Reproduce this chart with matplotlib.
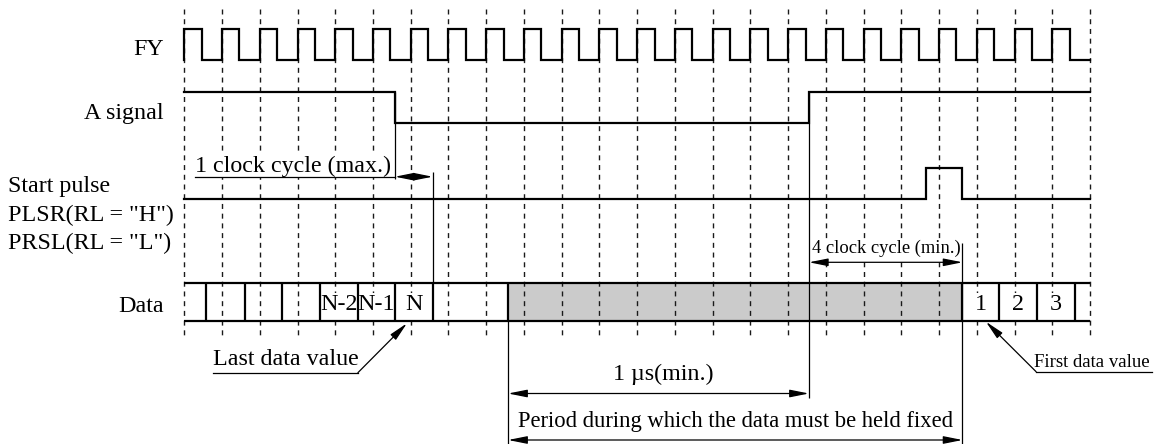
import numpy as np
import matplotlib.pyplot as plt

plt.rcParams['font.family'] = ['Liberation Serif', 'DejaVu Serif']
plt.rcParams['lines.scale_dashes'] = False

# timing data, in clock cycles from the first FY rising edge
n_clk = 24
fy_duty = 0.46
a_fall, a_rise = 5.58, 16.55
pulse_on, pulse_off = 19.65, 20.62
data_edges = [0.58, 1.6, 2.6, 3.6, 4.6, 5.58, 6.58, 8.58, 20.62, 21.6, 22.6, 23.6]
data_labels = ['', '', '', 'N-2', 'N-1', 'N', '', '', '1', '2', '3']
hold_cell = 7
row_names = ['FY', 'A signal', 'Data']

# row levels (y in pixels, top = 0)
fy_hi, fy_lo = 29.3, 60
a_hi, a_lo = 91.7, 123
p_hi, p_lo = 167.7, 198.5
d_top, d_bot = 282.5, 320.5

fs = 17.3
thick = 1.6
thin = 0.9
mask = dict(facecolor='white', edgecolor='none', pad=0.5)

fig = plt.figure(figsize=(11.66, 4.44), dpi=100)
ax = fig.add_axes([0, 0, 1, 1])
px0, step = 184.3, 37.74
ax.set_xlim(-px0 / step, (1166 - px0) / step)
ax.set_ylim(444, 0)
ax.axis('off')

# clock grid
ax.vlines(np.arange(n_clk + 1), 9, 335, colors='#1a1a1a', lw=1.0,
          linestyles=(0, (3.6, 3.4)), zorder=2)

# FY clock
t, v = [], []
for k in range(n_clk):
    t += [k, k, k + fy_duty, k + fy_duty]
    v += [fy_lo, fy_hi, fy_hi, fy_lo]
t.append(n_clk)
v.append(fy_lo)
ax.plot(t, v, color='black', lw=thick, zorder=4, solid_joinstyle='miter')

# A signal
ax.plot([0, a_fall, a_fall, a_rise, a_rise, n_clk],
        [a_hi, a_hi, a_lo, a_lo, a_hi, a_hi],
        color='black', lw=thick, zorder=4, solid_joinstyle='miter')

# start pulse
ax.plot([0, pulse_on, pulse_on, pulse_off, pulse_off, n_clk],
        [p_lo, p_lo, p_hi, p_hi, p_lo, p_lo],
        color='black', lw=thick, zorder=4, solid_joinstyle='miter')

# data row
ax.fill_between([data_edges[hold_cell], data_edges[hold_cell + 1]], d_top, d_bot,
                color='#cbcbcb', lw=0, zorder=1)
ax.hlines([d_top, d_bot], 0, n_clk, colors='black', lw=thick, zorder=6)
ax.vlines(data_edges, d_top, d_bot, colors='black', lw=thick, zorder=6)
for i, lab in enumerate(data_labels):
    if lab:
        ax.text((data_edges[i] + data_edges[i + 1]) / 2, 310, lab, fontsize=fs,
                ha='center', va='baseline', zorder=5, bbox=mask)

# thin reference lines
ax.vlines(a_fall, a_hi, 179, colors='black', lw=thin, zorder=3)
ax.vlines(data_edges[6], 171.7, d_top, colors='black', lw=thin, zorder=3)
ax.vlines(a_rise, a_hi, 398, colors='black', lw=thin, zorder=3)
ax.vlines(data_edges[hold_cell], d_bot, 444, colors='black', lw=thin, zorder=3)
ax.vlines(data_edges[hold_cell + 1], 243, 444, colors='black', lw=thin, zorder=3)


def dim(x0, x1, y, style='<|-|>'):
    ax.annotate('', xy=(x1, y), xytext=(x0, y),
                arrowprops=dict(arrowstyle=style + ',head_length=1.15,head_width=0.23',
                                mutation_scale=10, lw=thin, color='black',
                                shrinkA=0, shrinkB=0), zorder=5)


# row names
ax.text(-0.54, 55, row_names[0], fontsize=fs, ha='right', va='baseline')
ax.text(-0.54, 119.3, row_names[1], fontsize=fs, ha='right', va='baseline')
ax.text(-0.54, 311.7, row_names[2], fontsize=fs, ha='right', va='baseline')
ax.text(-4.66, 191.7, 'Start pulse', fontsize=fs, ha='left', va='baseline')
ax.text(-4.66, 220.7, 'PLSR(RL = "H")', fontsize=fs, ha='left', va='baseline')
ax.text(-4.66, 249.3, 'PRSL(RL = "L")', fontsize=fs, ha='left', va='baseline')

# 1 clock cycle (max.)
ax.plot([0.285, a_fall], [176.7, 176.7], color='black', lw=thin, zorder=6)
dim(a_fall, data_edges[6], 176.7)
ax.text(0.285, 171.7, '1 clock cycle (max.)', fontsize=fs, ha='left', va='baseline',
        zorder=5, bbox=mask)

# 4 clock cycle (min.)
dim(a_rise, data_edges[hold_cell + 1], 262.3)
ax.text(16.62, 253.3, '4 clock cycle (min.)', fontsize=13.3, ha='left', va='baseline',
        zorder=5, bbox=mask)

# 1 us (min.) and hold period
dim(data_edges[hold_cell], a_rise, 393.5)
ax.text(12.68, 380, '1 µs(min.)', fontsize=fs, ha='center', va='baseline')
dim(data_edges[hold_cell], data_edges[hold_cell + 1], 440)
ax.text(14.6, 427.3, 'Period during which the data must be held fixed', fontsize=16.3,
        ha='center', va='baseline')

# last / first data value callouts
ax.plot([0.76, 4.6], [372.7, 372.7], color='black', lw=thin)
ax.annotate('', xy=(5.9, 323.3), xytext=(4.6, 372.7),
            arrowprops=dict(arrowstyle='-|>,head_length=1.15,head_width=0.23',
                            mutation_scale=10, lw=thin, color='black',
                            shrinkA=0, shrinkB=0))
ax.text(0.76, 365, 'Last data value', fontsize=fs, ha='left', va='baseline')

ax.plot([22.57, 25.63], [371.7, 371.7], color='black', lw=thin)
ax.annotate('', xy=(21.24, 321.7), xytext=(22.57, 371.7),
            arrowprops=dict(arrowstyle='-|>,head_length=1.15,head_width=0.23',
                            mutation_scale=10, lw=thin, color='black',
                            shrinkA=0, shrinkB=0))
ax.text(22.51, 366.7, 'First data value', fontsize=13.5, ha='left', va='baseline')

fig.savefig('out.png', dpi=100)
